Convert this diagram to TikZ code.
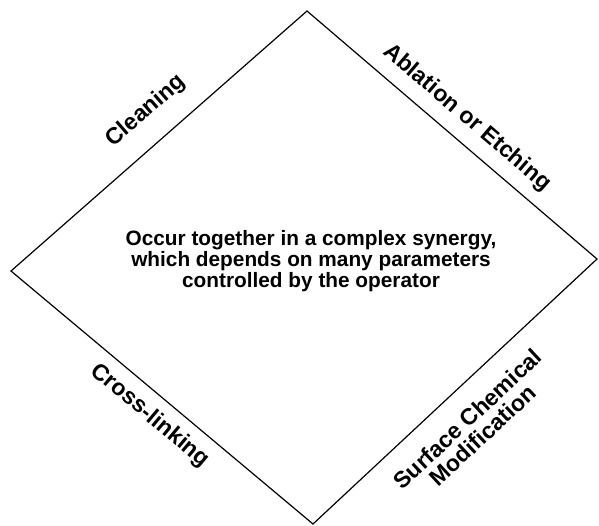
\documentclass[tikz,border=0pt]{standalone}
\usepackage{fontspec}
\setmainfont{Liberation Sans}
\usetikzlibrary{
    positioning
}

\begin{document}
\begin{tikzpicture}[x=1pt,y=-1pt,line width=1.2pt,
    sidelabel/.style={font=\bfseries\fontsize{23}{22}\selectfont,align=center,inner sep=0pt},
    centretext/.style={font=\bfseries\fontsize{20.8}{21}\selectfont,align=center,inner sep=0pt}]

\useasboundingbox (0,0) rectangle (599,526);

% Corners
\coordinate (top) at (307,11);
\coordinate (left) at (11,271);
\coordinate (bottom) at (313,524);
\coordinate (right) at (597,259);

% Diamond
\draw (top) -- (right) -- (bottom) -- (left) -- cycle;

% Centre text
\node[centretext] (synergy) at (311,261)
    {Occur together in a complex synergy,\\
     which depends on many parameters\\
     controlled by the operator};

% Side labels
\node[sidelabel,rotate=41] (clean) at (146,111) {Cleaning};
\node[sidelabel,rotate=-40.5] (ablate) at (467,118) {Ablation or Etching};
\node[sidelabel,rotate=-40] (cross) at (150,416) {Cross-linking};
\node[sidelabel,rotate=43] (surface) at (475,427)
    {Surface Chemical\\Modification};

\end{tikzpicture}
\end{document}
